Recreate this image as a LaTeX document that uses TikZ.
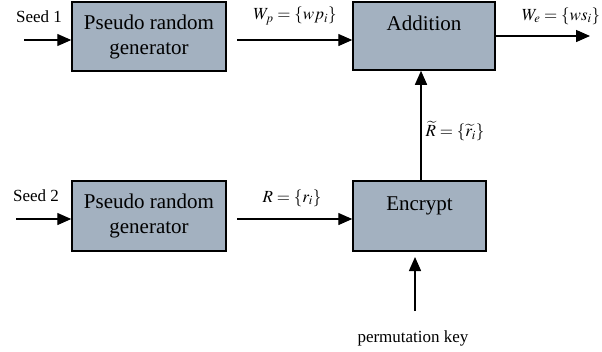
\documentclass[tikz,border=0pt]{standalone}
\usepackage{mathptmx}
\usepackage{fontspec}
\setmainfont{Liberation Serif}
\usetikzlibrary{arrows.meta}
\definecolor{boxfill}{HTML}{A3B1C0}
\tikzset{
  blk/.style={draw=black, line width=1.5pt, fill=boxfill, inner sep=0pt, align=center,
    font=\fontsize{21}{25}\selectfont},
  conn/.style={line width=1.4pt, -{Triangle[length=14pt,width=12pt]}},
  lbl/.style={inner sep=0pt, font=\fontsize{17}{20}\selectfont},
}
\begin{document}
\begin{tikzpicture}[x=1pt,y=-1pt]
\useasboundingbox (0,0) rectangle (602,351);
% boxes
\node[blk, minimum width=154pt, minimum height=69pt] (prg1) at (149,36.5) {Pseudo random\\generator};
\node[blk, minimum width=142pt, minimum height=68pt] (add) at (424,36) {Addition\\\mbox{}};
\node[blk, minimum width=154pt, minimum height=70pt] (prg2) at (149,216) {Pseudo random\\generator};
\node[blk, minimum width=133pt, minimum height=70pt] (enc) at (419.5,216) {Encrypt\\\mbox{}};
% free ends
\coordinate (s1) at (24,40);
\coordinate (p1) at (237,40);
\coordinate (out) at (590,36);
\coordinate (s2) at (16,219);
\coordinate (p2) at (237,219);
\coordinate (pk) at (415,311);
\coordinate (pkend) at (415,257);
% labels
\node[lbl] (l1) at (39,17) {Seed 1};
\node[lbl] (l2) at (295,16) {$W_p=\{wp_i\}$};
\node[lbl] (l3) at (561,16) {$W_e=\{ws_i\}$};
\node[lbl] (l4) at (36,196) {Seed 2};
\node[lbl] (l5) at (292,198) {$R=\{r_i\}$};
\node[lbl] (l6) at (455,131) {$\widetilde{R}=\{\widetilde{r_i}\}$};
\node[lbl] (l7) at (413,338) {permutation key};
% connectors
\draw[conn] (s1) -- (s1 -| prg1.west);
\draw[conn] (p1) -- (p1 -| add.west);
\draw[conn] (add.east |- out) -- (out);
\draw[conn] (s2) -- (s2 -| prg2.west);
\draw[conn] (p2) -- (p2 -| enc.west);
\draw[conn] ([xshift=1.5pt]enc.north) -- ([xshift=1.5pt]enc.north |- add.south);
\draw[conn] (pk) -- (pkend);
\end{tikzpicture}
\end{document}
